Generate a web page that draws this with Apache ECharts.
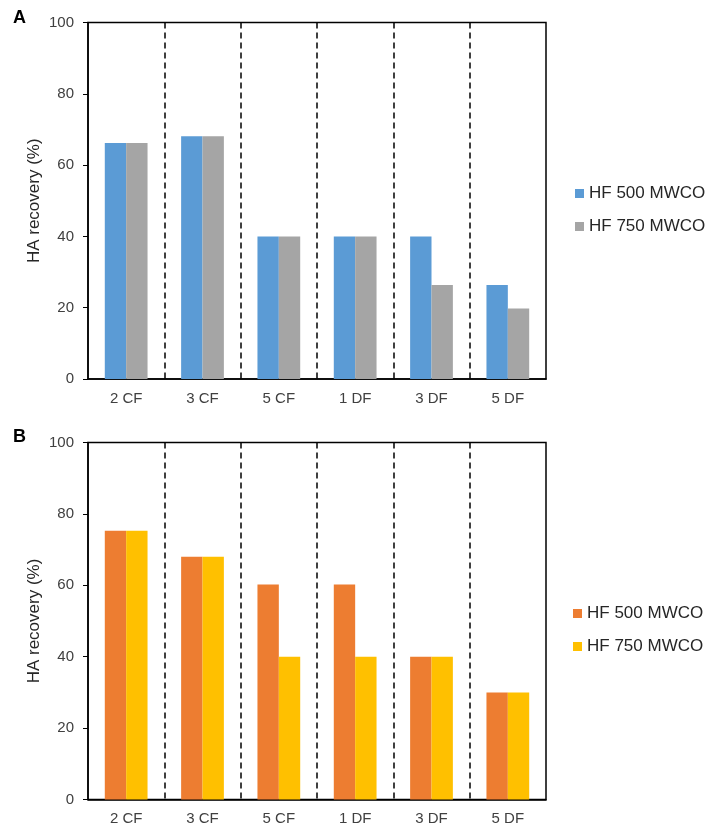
<!DOCTYPE html>
<html><head><meta charset="utf-8">
<script src="https://cdn.jsdelivr.net/npm/echarts@6/dist/echarts.min.js"></script>
<style>html,body{margin:0;padding:0;background:#fff}#c{width:710px;height:827px}</style>
</head><body><div id="c"></div>
<script>
const categories = ['2 CF', '3 CF', '5 CF', '1 DF', '3 DF', '5 DF'];
const seriesNames = ['HF 500 MWCO', 'HF 750 MWCO'];
const panelA_500 = [66.2, 68.1, 40, 40, 40, 26.4];
const panelA_750 = [66.2, 68.1, 40, 40, 26.4, 19.8];
const panelB_500 = [75.3, 68, 60.2, 60.2, 40, 30];
const panelB_750 = [75.3, 68, 40, 40, 40, 30];
const yTicks = [0, 20, 40, 60, 80, 100];
const colorsA = ['#5B9BD5', '#A5A5A5'];
const colorsB = ['#ED7D31', '#FFC000'];

const font = 'Liberation Sans, Arial, sans-serif';
const chart = echarts.init(document.getElementById('c'));

function xAx(gi) {
  return {
    type: 'category', gridIndex: gi, data: categories,
    axisLine: {show: true, lineStyle: {color: '#000', width: 1.5}},
    axisTick: {show: false},
    axisLabel: {color: '#404040', fontSize: 15, fontFamily: font, margin: 12},
    splitLine: {show: true, showMinLine: false, showMaxLine: false, lineStyle: {color: '#000', type: [6, 4], width: 1.5}}
  };
}
function yAx(gi) {
  return {
    type: 'value', gridIndex: gi, min: yTicks[0], max: yTicks[yTicks.length - 1], interval: yTicks[1] - yTicks[0],
    name: 'HA recovery (%)', nameLocation: 'middle', nameGap: 45, nameMoveOverlap: false,
    nameTextStyle: {color: '#262626', fontSize: 17, fontFamily: font},
    axisLine: {show: true, lineStyle: {color: '#000', width: 1.5}},
    axisTick: {show: true, length: 5, lineStyle: {color: '#000', width: 1}},
    axisLabel: {color: '#404040', fontSize: 15, fontFamily: font, margin: 14},
    splitLine: {show: false}
  };
}
function bar(name, data, color, gi) {
  return {
    type: 'bar', name: name, data: data, xAxisIndex: gi, yAxisIndex: gi,
    barGap: '0%', barCategoryGap: '44%',
    itemStyle: {color: color}
  };
}
function legend(names, left, top) {
  return {
    data: names, orient: 'vertical', left: left, top: top, itemWidth: 9, itemHeight: 9, itemGap: 16,
    icon: 'rect', formatter: n => n.replace(/ [AB]$/, ''),
    textStyle: {fontSize: 17, color: '#262626', fontFamily: font}
  };
}

chart.setOption({
  animation: false,
  title: [
    {text: 'A', left: 13, top: 9, padding: 0, textStyle: {fontSize: 18, fontWeight: 'bold', color: '#000', fontFamily: font}},
    {text: 'B', left: 13, top: 428, padding: 0, textStyle: {fontSize: 18, fontWeight: 'bold', color: '#000', fontFamily: font}}
  ],
  grid: [
    {left: 88, top: 22.5, width: 458, height: 356.5, show: true, borderColor: '#000', borderWidth: 1.5, backgroundColor: 'transparent'},
    {left: 88, top: 442.5, width: 458, height: 357, show: true, borderColor: '#000', borderWidth: 1.5, backgroundColor: 'transparent'}
  ],
  xAxis: [xAx(0), xAx(1)],
  yAxis: [yAx(0), yAx(1)],
  legend: [
    legend([seriesNames[0] + ' A', seriesNames[1] + ' A'], 570, 180),
    legend([seriesNames[0] + ' B', seriesNames[1] + ' B'], 568, 600)
  ],
  series: [
    bar(seriesNames[0] + ' A', panelA_500, colorsA[0], 0),
    bar(seriesNames[1] + ' A', panelA_750, colorsA[1], 0),
    bar(seriesNames[0] + ' B', panelB_500, colorsB[0], 1),
    bar(seriesNames[1] + ' B', panelB_750, colorsB[1], 1)
  ]
});
</script></body></html>
